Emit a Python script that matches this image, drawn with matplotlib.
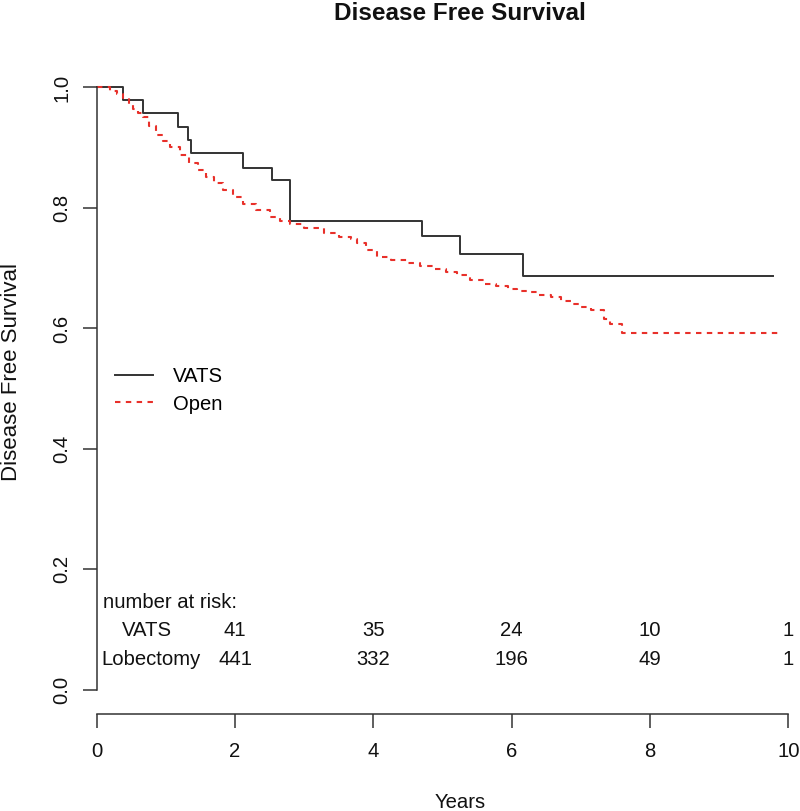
import matplotlib
matplotlib.use("Agg")
import matplotlib.pyplot as plt

plt.rcParams['font.family'] = ['Liberation Sans', 'DejaVu Sans']

# ---- data ----
vats_t = [0, 0.38, 0.67, 1.18, 1.32, 1.37, 2.11, 2.54, 2.80, 4.71, 5.26, 6.17, 9.78]
vats_s = [1.0, 0.979, 0.957, 0.935, 0.913, 0.891, 0.867, 0.846, 0.778, 0.753, 0.723, 0.687, 0.687]

open_t = [0, 0.19, 0.3, 0.38, 0.46, 0.53, 0.6, 0.67, 0.76, 0.86, 0.96, 1.06, 1.2, 1.34,
          1.46, 1.58, 1.7, 1.83, 1.97, 2.12, 2.3, 2.51, 2.65, 2.80, 3.0, 3.28, 3.5, 3.67,
          3.76, 3.9, 4.05, 4.25, 4.48, 4.68, 4.87, 5.05, 5.21, 5.4, 5.6, 5.77, 5.94, 6.08,
          6.23, 6.4, 6.57, 6.72, 6.86, 7.0, 7.14, 7.33, 7.42, 7.60, 9.9]
open_s = [1.0, 0.995, 0.99, 0.982, 0.973, 0.965, 0.958, 0.951, 0.936, 0.921, 0.911, 0.902, 0.888, 0.874,
          0.863, 0.852, 0.841, 0.830, 0.818, 0.807, 0.796, 0.785, 0.779, 0.773, 0.766, 0.758, 0.752, 0.748,
          0.742, 0.730, 0.719, 0.713, 0.708, 0.703, 0.699, 0.693, 0.688, 0.681, 0.674, 0.670, 0.666, 0.663,
          0.660, 0.656, 0.652, 0.646, 0.641, 0.635, 0.630, 0.616, 0.608, 0.592, 0.592]

risk_times = [2, 4, 6, 8, 10]
risk_vats = [41, 35, 24, 10, 1]
risk_open = [441, 332, 196, 49, 1]
risk_labels = ["VATS", "Lobectomy"]
series_labels = ["VATS", "Open"]
x_ticks = [0, 2, 4, 6, 8, 10]
y_ticks = [0.0, 0.2, 0.4, 0.6, 0.8, 1.0]

FS = 14.6
TXT = '#111111'

W, H = 800, 811
fig = plt.figure(figsize=(W / 100, H / 100), dpi=100)

left, right = 96.7, 788.3
bottom, top = 714.0, 63.4
ax = fig.add_axes([left / W, 1 - bottom / H, (right - left) / W, (bottom - top) / H])
ax.set_xlim(0, 10)
ax.set_ylim(-0.04, 1.04)

ax.plot(vats_t, vats_s, drawstyle='steps-post', color='#333333', lw=1.4,
        label=series_labels[0], clip_on=False)
ax.plot(open_t, open_s, drawstyle='steps-post', color='#e8302a', lw=1.5,
        linestyle=(0, (2.6, 2.6)), label=series_labels[1], clip_on=False)

for sp in ['top', 'right']:
    ax.spines[sp].set_visible(False)
ax.spines['left'].set_bounds(0, 1)
ax.spines['bottom'].set_bounds(0, 10)
for sp in ['left', 'bottom']:
    ax.spines[sp].set_color('#333333')
    ax.spines[sp].set_linewidth(1.1)

ax.set_xticks(x_ticks)
ax.set_xticklabels([str(v) for v in x_ticks])
ax.set_yticks(y_ticks)
ax.set_yticklabels([f"{v:.1f}" for v in y_ticks], rotation=90, va='center')
ax.tick_params(axis='both', direction='out', length=9.8, width=1.1, color='#333333',
               labelsize=FS, labelcolor=TXT)
ax.tick_params(axis='x', pad=10.5)
ax.tick_params(axis='y', pad=8.5)

fig.text(460 / W, 1 - 13 / H, "Disease Free Survival", ha='center', va='center',
         fontsize=17.5, fontweight='bold', color=TXT)
fig.text(460 / W, 1 - 802 / H, "Years", ha='center', va='center', fontsize=FS, color=TXT)
fig.text(12 / W, 1 - 372 / H, "Disease Free Survival", ha='center', va='center',
         rotation=90, fontsize=16, color=TXT)

ax.legend(loc='upper left', bbox_to_anchor=(115 / W, 1 - 367 / H),
          bbox_transform=fig.transFigure, frameon=False, fontsize=FS,
          handlelength=1.85, handletextpad=1.0, labelspacing=0.42,
          borderpad=0, borderaxespad=0)

ax.text(0.09, 0.145, "number at risk:", ha='left', va='center', fontsize=FS, color=TXT)
row_y = [0.098, 0.050]
ax.text(0.73, row_y[0], risk_labels[0], ha='center', va='center', fontsize=FS, color=TXT)
ax.text(0.79, row_y[1], risk_labels[1], ha='center', va='center', fontsize=FS, color=TXT)
for t, a, b in zip(risk_times, risk_vats, risk_open):
    ax.text(t, row_y[0], str(a), ha='center', va='center', fontsize=FS, color=TXT, clip_on=False)
    ax.text(t, row_y[1], str(b), ha='center', va='center', fontsize=FS, color=TXT, clip_on=False)

fig.savefig("out.png", dpi=100)
